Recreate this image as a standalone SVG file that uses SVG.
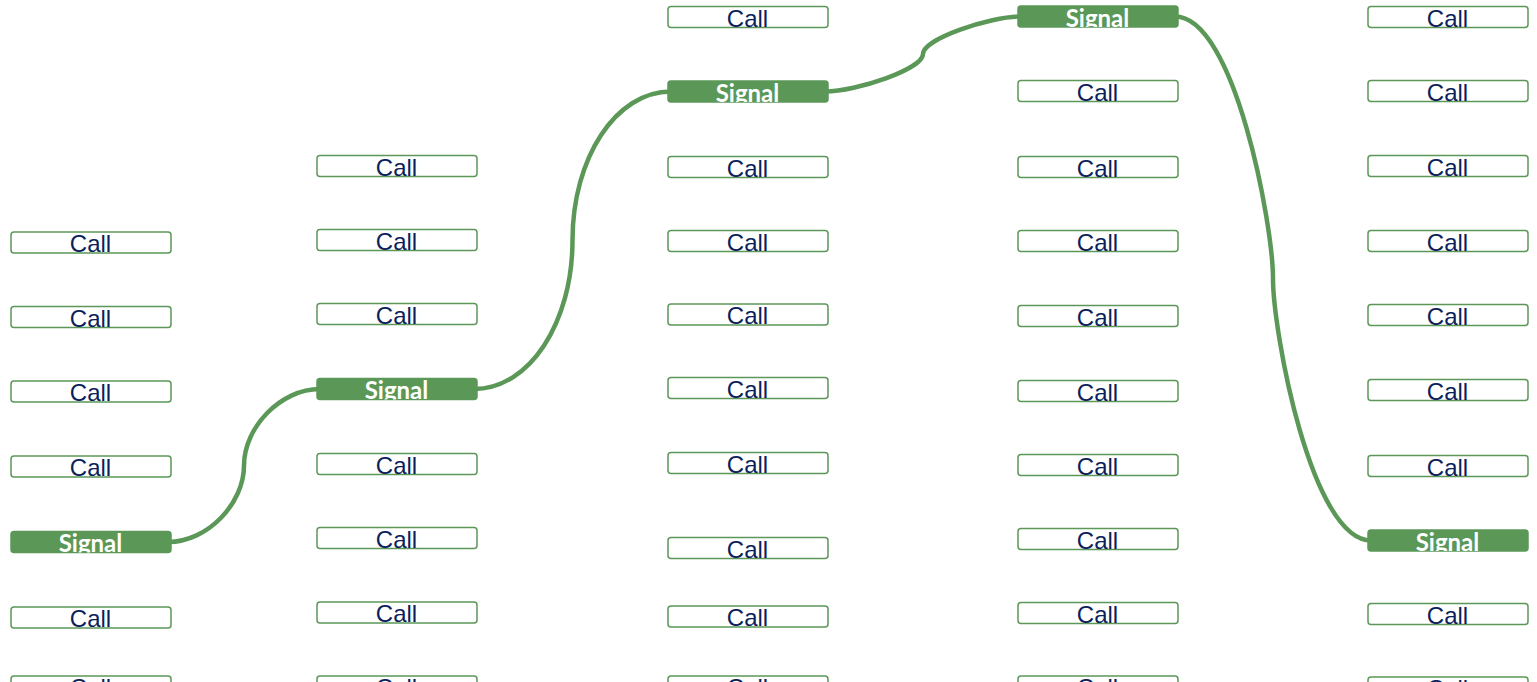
<svg xmlns="http://www.w3.org/2000/svg" width="1537" height="682" viewBox="0 0 1537 682">
<style>
.call rect{fill:#ffffff;stroke:#5b9858;stroke-width:1.5}
.sig rect{fill:#5b9858;stroke:#5b9858;stroke-width:1.5}
.call text{font-family:"Liberation Sans",Arial,sans-serif;font-size:24px;fill:#0c1f5c;text-anchor:middle}
.sig text{font-family:Lato,"Noto Sans",sans-serif;font-weight:bold;font-size:24px;fill:#ffffff;text-anchor:middle}
.link{fill:none;stroke:#5b9858;stroke-width:4.5}
</style>
<rect width="1537" height="682" fill="#ffffff"/>
<g id="connectors">
<path class="link" d="M168,542 C207.5,542 244,503.5 244,465.5 C244,427.5 280.5,389 320,389"/>
<path class="link" d="M474,389 C529.5,389 572.5,322.5 572.5,240.25 C572.5,158.5 615.5,91.5 671,91.5"/>
<path class="link" d="M825,91.5 C856.5,91.5 923,69 923,54 C923,39 989.5,16.5 1021,16.5"/>
<path class="link" d="M1175,16.5 C1235,16.5 1273,226 1273,278.5 C1273,331 1311,540.5 1371,540.5"/>
</g>
<g id="c1n1" class="call"><rect x="11" y="232" width="160" height="21" rx="3"/><svg x="11" y="232" width="160" height="21"><text x="79.5" y="20">Call</text></svg></g>
<g id="c1n2" class="call"><rect x="11" y="306.5" width="160" height="21" rx="3"/><svg x="11" y="306.5" width="160" height="21"><text x="79.5" y="20">Call</text></svg></g>
<g id="c1n3" class="call"><rect x="11" y="381" width="160" height="21" rx="3"/><svg x="11" y="381" width="160" height="21"><text x="79.5" y="20">Call</text></svg></g>
<g id="c1n4" class="call"><rect x="11" y="456" width="160" height="21" rx="3"/><svg x="11" y="456" width="160" height="21"><text x="79.5" y="20">Call</text></svg></g>
<g id="c1s" class="sig"><rect x="11" y="531.5" width="160" height="21" rx="3"/><svg x="11" y="531.5" width="160" height="21"><text x="79.5" y="20.5">Signal</text></svg></g>
<g id="c1n6" class="call"><rect x="11" y="607" width="160" height="21" rx="3"/><svg x="11" y="607" width="160" height="21"><text x="79.5" y="20">Call</text></svg></g>
<g id="c1n7" class="call"><rect x="11" y="676" width="160" height="21" rx="3"/><svg x="11" y="676" width="160" height="21"><text x="79.5" y="20">Call</text></svg></g>

<g id="c2n1" class="call"><rect x="317" y="155.5" width="160" height="21" rx="3"/><svg x="317" y="155.5" width="160" height="21"><text x="79.5" y="20">Call</text></svg></g>
<g id="c2n2" class="call"><rect x="317" y="229.5" width="160" height="21" rx="3"/><svg x="317" y="229.5" width="160" height="21"><text x="79.5" y="20">Call</text></svg></g>
<g id="c2n3" class="call"><rect x="317" y="303.5" width="160" height="21" rx="3"/><svg x="317" y="303.5" width="160" height="21"><text x="79.5" y="20">Call</text></svg></g>
<g id="c2s" class="sig"><rect x="317" y="378.5" width="160" height="21" rx="3"/><svg x="317" y="378.5" width="160" height="21"><text x="79.5" y="20.5">Signal</text></svg></g>
<g id="c2n5" class="call"><rect x="317" y="453.5" width="160" height="21" rx="3"/><svg x="317" y="453.5" width="160" height="21"><text x="79.5" y="20">Call</text></svg></g>
<g id="c2n6" class="call"><rect x="317" y="527.5" width="160" height="21" rx="3"/><svg x="317" y="527.5" width="160" height="21"><text x="79.5" y="20">Call</text></svg></g>
<g id="c2n7" class="call"><rect x="317" y="602" width="160" height="21" rx="3"/><svg x="317" y="602" width="160" height="21"><text x="79.5" y="20">Call</text></svg></g>
<g id="c2n8" class="call"><rect x="317" y="676" width="160" height="21" rx="3"/><svg x="317" y="676" width="160" height="21"><text x="79.5" y="20">Call</text></svg></g>

<g id="c3n1" class="call"><rect x="668" y="6.5" width="160" height="21" rx="3"/><svg x="668" y="6.5" width="160" height="21"><text x="79.5" y="20">Call</text></svg></g>
<g id="c3s" class="sig"><rect x="668" y="81" width="160" height="21" rx="3"/><svg x="668" y="81" width="160" height="21"><text x="79.5" y="20.5">Signal</text></svg></g>
<g id="c3n3" class="call"><rect x="668" y="156.5" width="160" height="21" rx="3"/><svg x="668" y="156.5" width="160" height="21"><text x="79.5" y="20">Call</text></svg></g>
<g id="c3n4" class="call"><rect x="668" y="230.5" width="160" height="21" rx="3"/><svg x="668" y="230.5" width="160" height="21"><text x="79.5" y="20">Call</text></svg></g>
<g id="c3n5" class="call"><rect x="668" y="304" width="160" height="21" rx="3"/><svg x="668" y="304" width="160" height="21"><text x="79.5" y="20">Call</text></svg></g>
<g id="c3n6" class="call"><rect x="668" y="377.5" width="160" height="21" rx="3"/><svg x="668" y="377.5" width="160" height="21"><text x="79.5" y="20">Call</text></svg></g>
<g id="c3n7" class="call"><rect x="668" y="452.5" width="160" height="21" rx="3"/><svg x="668" y="452.5" width="160" height="21"><text x="79.5" y="20">Call</text></svg></g>
<g id="c3n8" class="call"><rect x="668" y="537.5" width="160" height="21" rx="3"/><svg x="668" y="537.5" width="160" height="21"><text x="79.5" y="20">Call</text></svg></g>
<g id="c3n9" class="call"><rect x="668" y="606" width="160" height="21" rx="3"/><svg x="668" y="606" width="160" height="21"><text x="79.5" y="20">Call</text></svg></g>
<g id="c3n10" class="call"><rect x="668" y="676" width="160" height="21" rx="3"/><svg x="668" y="676" width="160" height="21"><text x="79.5" y="20">Call</text></svg></g>

<g id="c4s" class="sig"><rect x="1018" y="6" width="160" height="21" rx="3"/><svg x="1018" y="6" width="160" height="21"><text x="79.5" y="20.5">Signal</text></svg></g>
<g id="c4n2" class="call"><rect x="1018" y="80.5" width="160" height="21" rx="3"/><svg x="1018" y="80.5" width="160" height="21"><text x="79.5" y="20">Call</text></svg></g>
<g id="c4n3" class="call"><rect x="1018" y="156.5" width="160" height="21" rx="3"/><svg x="1018" y="156.5" width="160" height="21"><text x="79.5" y="20">Call</text></svg></g>
<g id="c4n4" class="call"><rect x="1018" y="230.5" width="160" height="21" rx="3"/><svg x="1018" y="230.5" width="160" height="21"><text x="79.5" y="20">Call</text></svg></g>
<g id="c4n5" class="call"><rect x="1018" y="305.5" width="160" height="21" rx="3"/><svg x="1018" y="305.5" width="160" height="21"><text x="79.5" y="20">Call</text></svg></g>
<g id="c4n6" class="call"><rect x="1018" y="380.5" width="160" height="21" rx="3"/><svg x="1018" y="380.5" width="160" height="21"><text x="79.5" y="20">Call</text></svg></g>
<g id="c4n7" class="call"><rect x="1018" y="454.5" width="160" height="21" rx="3"/><svg x="1018" y="454.5" width="160" height="21"><text x="79.5" y="20">Call</text></svg></g>
<g id="c4n8" class="call"><rect x="1018" y="528.5" width="160" height="21" rx="3"/><svg x="1018" y="528.5" width="160" height="21"><text x="79.5" y="20">Call</text></svg></g>
<g id="c4n9" class="call"><rect x="1018" y="602.5" width="160" height="21" rx="3"/><svg x="1018" y="602.5" width="160" height="21"><text x="79.5" y="20">Call</text></svg></g>
<g id="c4n10" class="call"><rect x="1018" y="676" width="160" height="21" rx="3"/><svg x="1018" y="676" width="160" height="21"><text x="79.5" y="20">Call</text></svg></g>

<g id="c5n1" class="call"><rect x="1368" y="6.5" width="160" height="21" rx="3"/><svg x="1368" y="6.5" width="160" height="21"><text x="79.5" y="20">Call</text></svg></g>
<g id="c5n2" class="call"><rect x="1368" y="80.5" width="160" height="21" rx="3"/><svg x="1368" y="80.5" width="160" height="21"><text x="79.5" y="20">Call</text></svg></g>
<g id="c5n3" class="call"><rect x="1368" y="155.5" width="160" height="21" rx="3"/><svg x="1368" y="155.5" width="160" height="21"><text x="79.5" y="20">Call</text></svg></g>
<g id="c5n4" class="call"><rect x="1368" y="230.5" width="160" height="21" rx="3"/><svg x="1368" y="230.5" width="160" height="21"><text x="79.5" y="20">Call</text></svg></g>
<g id="c5n5" class="call"><rect x="1368" y="304.5" width="160" height="21" rx="3"/><svg x="1368" y="304.5" width="160" height="21"><text x="79.5" y="20">Call</text></svg></g>
<g id="c5n6" class="call"><rect x="1368" y="379.5" width="160" height="21" rx="3"/><svg x="1368" y="379.5" width="160" height="21"><text x="79.5" y="20">Call</text></svg></g>
<g id="c5n7" class="call"><rect x="1368" y="455.5" width="160" height="21" rx="3"/><svg x="1368" y="455.5" width="160" height="21"><text x="79.5" y="20">Call</text></svg></g>
<g id="c5s" class="sig"><rect x="1368" y="530" width="160" height="21" rx="3"/><svg x="1368" y="530" width="160" height="21"><text x="79.5" y="20.5">Signal</text></svg></g>
<g id="c5n9" class="call"><rect x="1368" y="603.5" width="160" height="21" rx="3"/><svg x="1368" y="603.5" width="160" height="21"><text x="79.5" y="20">Call</text></svg></g>
<g id="c5n10" class="call"><rect x="1368" y="677" width="160" height="21" rx="3"/><svg x="1368" y="677" width="160" height="21"><text x="79.5" y="20">Call</text></svg></g>
</svg>
